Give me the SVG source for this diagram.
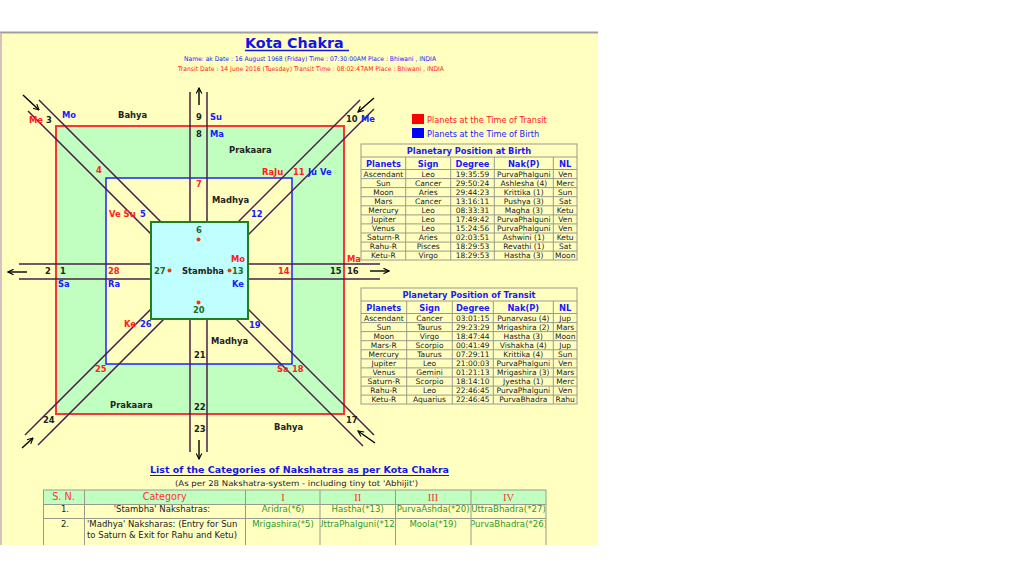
<svg xmlns="http://www.w3.org/2000/svg" width="1024" height="576" viewBox="0 0 1024 576">
<defs>
<style>
text{font-family:"DejaVu Sans",Verdana,sans-serif;}
.lb{font-size:8.4px;font-weight:bold;fill:#222;}
.r{fill:#ff2020;}
.b{fill:#1a1aff;}
.g{fill:#1e6b1e;}
.cl{stroke:#4a1f4a;stroke-width:1.5;fill:none;}
.ar{stroke:#000;stroke-width:1.4;fill:none;marker-end:url(#ah);}
.tt{font-size:8.3px;font-weight:bold;fill:#1a1aff;text-anchor:middle;}
.th{font-size:8.3px;font-weight:bold;fill:#1a1aff;text-anchor:middle;}
.td{font-size:7.5px;fill:#222;text-anchor:middle;}
.grid{stroke:#9a9a8c;stroke-width:1;fill:none;}
.hr{font-size:9.6px;fill:#ff3333;text-anchor:middle;}
.rn{font-family:"Liberation Serif",serif;font-size:10.5px;fill:#ff3333;text-anchor:middle;}
.gt{font-size:8.6px;fill:#2e9a2e;text-anchor:middle;}
.bt{font-size:8.5px;fill:#222;}
</style>
<marker id="ah" viewBox="0 0 10 10" refX="9" refY="5" markerWidth="7" markerHeight="7" orient="auto" markerUnits="userSpaceOnUse">
<path d="M1,1 L9,5 L1,9" fill="none" stroke="#000" stroke-width="1.6"/>
</marker>
<clipPath id="c2"><rect x="320.5" y="519" width="75" height="26"/></clipPath>
<clipPath id="c3"><rect x="396" y="505" width="75" height="14"/></clipPath>
<clipPath id="c4"><rect x="471.5" y="505" width="74" height="40"/></clipPath>
<clipPath id="c1"><rect x="246" y="519" width="74" height="26"/></clipPath>
</defs>

<rect x="0" y="0" width="1024" height="576" fill="#ffffff"/>
<rect x="0" y="33" width="598" height="512" fill="#ffffc0"/>
<line x1="0" y1="32.5" x2="598" y2="32.5" stroke="#a0a0a0" stroke-width="2"/>
<line x1="1" y1="33" x2="1" y2="545" stroke="#d8c0c0" stroke-width="2"/>

<g id="header">
<text x="245" y="48" font-size="14.3" font-weight="bold" fill="#1414e6">Kota Chakra</text>
<line x1="245" y1="50.5" x2="349" y2="50.5" stroke="#1414e6" stroke-width="1.3"/>
<text x="184" y="61" font-family="Liberation Sans" font-size="6.4" fill="#1a1aff" textLength="252" lengthAdjust="spacingAndGlyphs">Name: ak  Date : 16 August 1968 (Friday) Time : 07:30:00AM Place : Bhiwani , INDIA</text>
<text x="178" y="71" font-family="Liberation Sans" font-size="6.4" fill="#ff2020" textLength="266" lengthAdjust="spacingAndGlyphs">Transit Date : 14 June 2016 (Tuesday) Transit Time : 08:02:47AM Place : Bhiwani , INDIA</text>
</g>

<g id="legend">
<rect x="412" y="114" width="12" height="10" fill="#ff0000"/>
<text x="427" y="123" font-size="8.2" fill="#ff2020">Planets at the Time of Transit</text>
<rect x="412" y="128" width="12" height="10" fill="#0000ff"/>
<text x="427" y="137" font-size="8.2" fill="#1a1aff">Planets at the Time of Birth</text>
</g>

<g id="prakaara">
<rect x="56" y="126" width="288" height="288" fill="#c0ffc0" stroke="#ff3333" stroke-width="2"/>
</g>
<g id="madhya">
<rect x="106" y="178" width="186" height="186" fill="#ffffc0" stroke="#2020ff" stroke-width="1.5"/>
</g>

<g id="connectors">
<line class="cl" x1="190" y1="92" x2="190" y2="452"/>
<line class="cl" x1="207" y1="92" x2="207" y2="452"/>
<line class="cl" x1="19" y1="264" x2="380" y2="264"/>
<line class="cl" x1="19" y1="279" x2="380" y2="279"/>
<line class="cl" x1="39" y1="100" x2="374" y2="435"/>
<line class="cl" x1="28" y1="111" x2="363" y2="446"/>
<line class="cl" x1="360" y1="100" x2="25" y2="435"/>
<line class="cl" x1="374" y1="109" x2="38" y2="445"/>
<line class="ar" x1="199" y1="105" x2="199" y2="88"/>
<line class="ar" x1="199" y1="440" x2="199" y2="459"/>
<line class="ar" x1="27" y1="272" x2="8" y2="272"/>
<line class="ar" x1="370" y1="271" x2="389" y2="271"/>
<line class="ar" x1="23" y1="95" x2="39" y2="110"/>
<line class="ar" x1="374" y1="98" x2="358" y2="112"/>
<line class="ar" x1="22" y1="448" x2="33" y2="438"/>
<line class="ar" x1="375" y1="443" x2="358" y2="431"/>
</g>

<g id="stambha">
<rect x="151" y="222" width="97" height="97" fill="#c0ffff" stroke="#208020" stroke-width="2"/>
<circle cx="198.5" cy="239.5" r="2" fill="#ff3300"/>
<circle cx="169.5" cy="270.5" r="2" fill="#ff3300"/>
<circle cx="229.5" cy="270.5" r="2" fill="#ff3300"/>
<circle cx="198.5" cy="302.5" r="2" fill="#ff3300"/>
<text class="lb g" x="196" y="233">6</text>
<text class="lb g" x="154" y="273.5">27</text>
<text class="lb" x="182" y="273.5">Stambha</text>
<text class="lb g" x="232" y="273.5">13</text>
<text class="lb g" x="193" y="313">20</text>
</g>

<g id="labels">
<text class="lb r" x="29" y="123">Me</text>
<text class="lb" x="46" y="123">3</text>
<text class="lb b" x="62" y="118">Mo</text>
<text class="lb" x="118" y="118">Bahya</text>
<text class="lb" x="196" y="120">9</text>
<text class="lb b" x="210" y="120">Su</text>
<text class="lb" x="196" y="137">8</text>
<text class="lb b" x="210" y="137">Ma</text>
<text class="lb" x="346" y="122">10</text>
<text class="lb b" x="361" y="122">Me</text>
<text class="lb" x="229" y="153">Prakaara</text>
<text class="lb r" x="96" y="173">4</text>
<text class="lb r" x="262" y="175">RaJu</text>
<text class="lb r" x="293" y="175">11</text>
<text class="lb b" x="308" y="175">Ju Ve</text>
<text class="lb r" x="196" y="187">7</text>
<text class="lb" x="212" y="203">Madhya</text>
<text class="lb r" x="109" y="217">Ve Su</text>
<text class="lb b" x="140" y="217">5</text>
<text class="lb b" x="251" y="217">12</text>
<text class="lb r" x="231" y="262">Mo</text>
<text class="lb r" x="347" y="262">Ma</text>
<text class="lb" x="45" y="273.5">2</text>
<text class="lb" x="60" y="273.5">1</text>
<text class="lb r" x="108" y="273.5">28</text>
<text class="lb r" x="278" y="273.5">14</text>
<text class="lb" x="330" y="273.5">15</text>
<text class="lb" x="347" y="273.5">16</text>
<text class="lb b" x="58" y="287">Sa</text>
<text class="lb b" x="108" y="287">Ra</text>
<text class="lb b" x="232" y="287">Ke</text>
<text class="lb r" x="124" y="327">Ke</text>
<text class="lb b" x="140" y="327">26</text>
<text class="lb b" x="249" y="328">19</text>
<text class="lb" x="211" y="344">Madhya</text>
<text class="lb" x="194" y="358">21</text>
<text class="lb r" x="95" y="372">25</text>
<text class="lb r" x="277" y="372">Sa</text>
<text class="lb r" x="292" y="372">18</text>
<text class="lb" x="110" y="408">Prakaara</text>
<text class="lb" x="194" y="410">22</text>
<text class="lb" x="43" y="423">24</text>
<text class="lb" x="346" y="423">17</text>
<text class="lb" x="194" y="432">23</text>
<text class="lb" x="274" y="430">Bahya</text>
</g>

<g id="birth-table">
<rect class="grid" x="361" y="144" width="216" height="116"/>
<line class="grid" x1="361" y1="157" x2="577" y2="157"/>
<line class="grid" x1="361" y1="169.5" x2="577" y2="169.5"/>
<line class="grid" x1="361" y1="178.6" x2="577" y2="178.6"/>
<line class="grid" x1="361" y1="187.6" x2="577" y2="187.6"/>
<line class="grid" x1="361" y1="196.7" x2="577" y2="196.7"/>
<line class="grid" x1="361" y1="205.8" x2="577" y2="205.8"/>
<line class="grid" x1="361" y1="214.9" x2="577" y2="214.9"/>
<line class="grid" x1="361" y1="223.9" x2="577" y2="223.9"/>
<line class="grid" x1="361" y1="233" x2="577" y2="233"/>
<line class="grid" x1="361" y1="242.1" x2="577" y2="242.1"/>
<line class="grid" x1="361" y1="251.1" x2="577" y2="251.1"/>
<line class="grid" x1="405.7" y1="157" x2="405.7" y2="260"/>
<line class="grid" x1="450.7" y1="157" x2="450.7" y2="260"/>
<line class="grid" x1="494.3" y1="157" x2="494.3" y2="260"/>
<line class="grid" x1="553.3" y1="157" x2="553.3" y2="260"/>
<text class="tt" x="469" y="153.5">Planetary Position at Birth</text>
<text class="th" x="383.4" y="166.5">Planets</text>
<text class="th" x="428.2" y="166.5">Sign</text>
<text class="th" x="472.5" y="166.5">Degree</text>
<text class="th" x="523.8" y="166.5">Nak(P)</text>
<text class="th" x="565.2" y="166.5">NL</text>
<g class="td">
<text x="383.4" y="176.7">Ascendant</text><text x="428.2" y="176.7">Leo</text><text x="472.5" y="176.7">19:35:59</text><text x="523.8" y="176.7">PurvaPhalguni</text><text x="565.2" y="176.7">Ven</text>
<text x="383.4" y="185.8">Sun</text><text x="428.2" y="185.8">Cancer</text><text x="472.5" y="185.8">29:50:24</text><text x="523.8" y="185.8">Ashlesha (4)</text><text x="565.2" y="185.8">Merc</text>
<text x="383.4" y="194.8">Moon</text><text x="428.2" y="194.8">Aries</text><text x="472.5" y="194.8">29:44:23</text><text x="523.8" y="194.8">Krittika (1)</text><text x="565.2" y="194.8">Sun</text>
<text x="383.4" y="203.9">Mars</text><text x="428.2" y="203.9">Cancer</text><text x="472.5" y="203.9">13:16:11</text><text x="523.8" y="203.9">Pushya (3)</text><text x="565.2" y="203.9">Sat</text>
<text x="383.4" y="213">Mercury</text><text x="428.2" y="213">Leo</text><text x="472.5" y="213">08:33:31</text><text x="523.8" y="213">Magha (3)</text><text x="565.2" y="213">Ketu</text>
<text x="383.4" y="222.1">Jupiter</text><text x="428.2" y="222.1">Leo</text><text x="472.5" y="222.1">17:49:42</text><text x="523.8" y="222.1">PurvaPhalguni</text><text x="565.2" y="222.1">Ven</text>
<text x="383.4" y="231.1">Venus</text><text x="428.2" y="231.1">Leo</text><text x="472.5" y="231.1">15:24:56</text><text x="523.8" y="231.1">PurvaPhalguni</text><text x="565.2" y="231.1">Ven</text>
<text x="383.4" y="240.2">Saturn-R</text><text x="428.2" y="240.2">Aries</text><text x="472.5" y="240.2">02:03:51</text><text x="523.8" y="240.2">Ashwini (1)</text><text x="565.2" y="240.2">Ketu</text>
<text x="383.4" y="249.3">Rahu-R</text><text x="428.2" y="249.3">Pisces</text><text x="472.5" y="249.3">18:29:53</text><text x="523.8" y="249.3">Revathi (1)</text><text x="565.2" y="249.3">Sat</text>
<text x="383.4" y="258.3">Ketu-R</text><text x="428.2" y="258.3">Virgo</text><text x="472.5" y="258.3">18:29:53</text><text x="523.8" y="258.3">Hastha (3)</text><text x="565.2" y="258.3">Moon</text>
</g>
</g>

<g id="transit-table">
<rect class="grid" x="361" y="288" width="216" height="116"/>
<line class="grid" x1="361" y1="301" x2="577" y2="301"/>
<line class="grid" x1="361" y1="313.5" x2="577" y2="313.5"/>
<line class="grid" x1="361" y1="322.6" x2="577" y2="322.6"/>
<line class="grid" x1="361" y1="331.6" x2="577" y2="331.6"/>
<line class="grid" x1="361" y1="340.7" x2="577" y2="340.7"/>
<line class="grid" x1="361" y1="349.8" x2="577" y2="349.8"/>
<line class="grid" x1="361" y1="358.9" x2="577" y2="358.9"/>
<line class="grid" x1="361" y1="367.9" x2="577" y2="367.9"/>
<line class="grid" x1="361" y1="377" x2="577" y2="377"/>
<line class="grid" x1="361" y1="386.1" x2="577" y2="386.1"/>
<line class="grid" x1="361" y1="395.1" x2="577" y2="395.1"/>
<line class="grid" x1="406.7" y1="301" x2="406.7" y2="404"/>
<line class="grid" x1="452.3" y1="301" x2="452.3" y2="404"/>
<line class="grid" x1="493.3" y1="301" x2="493.3" y2="404"/>
<line class="grid" x1="553.3" y1="301" x2="553.3" y2="404"/>
<text class="tt" x="469" y="297.5">Planetary Position of Transit</text>
<text class="th" x="383.8" y="310.5">Planets</text>
<text class="th" x="429.5" y="310.5">Sign</text>
<text class="th" x="472.8" y="310.5">Degree</text>
<text class="th" x="523.3" y="310.5">Nak(P)</text>
<text class="th" x="565.2" y="310.5">NL</text>
<g class="td">
<text x="383.8" y="320.7">Ascendant</text><text x="429.5" y="320.7">Cancer</text><text x="472.8" y="320.7">03:01:15</text><text x="523.3" y="320.7">Punarvasu (4)</text><text x="565.2" y="320.7">Jup</text>
<text x="383.8" y="329.8">Sun</text><text x="429.5" y="329.8">Taurus</text><text x="472.8" y="329.8">29:23:29</text><text x="523.3" y="329.8">Mrigashira (2)</text><text x="565.2" y="329.8">Mars</text>
<text x="383.8" y="338.8">Moon</text><text x="429.5" y="338.8">Virgo</text><text x="472.8" y="338.8">18:47:44</text><text x="523.3" y="338.8">Hastha (3)</text><text x="565.2" y="338.8">Moon</text>
<text x="383.8" y="347.9">Mars-R</text><text x="429.5" y="347.9">Scorpio</text><text x="472.8" y="347.9">00:41:49</text><text x="523.3" y="347.9">Vishakha (4)</text><text x="565.2" y="347.9">Jup</text>
<text x="383.8" y="357">Mercury</text><text x="429.5" y="357">Taurus</text><text x="472.8" y="357">07:29:11</text><text x="523.3" y="357">Krittika (4)</text><text x="565.2" y="357">Sun</text>
<text x="383.8" y="366.1">Jupiter</text><text x="429.5" y="366.1">Leo</text><text x="472.8" y="366.1">21:00:03</text><text x="523.3" y="366.1">PurvaPhalguni</text><text x="565.2" y="366.1">Ven</text>
<text x="383.8" y="375.1">Venus</text><text x="429.5" y="375.1">Gemini</text><text x="472.8" y="375.1">01:21:13</text><text x="523.3" y="375.1">Mrigashira (3)</text><text x="565.2" y="375.1">Mars</text>
<text x="383.8" y="384.2">Saturn-R</text><text x="429.5" y="384.2">Scorpio</text><text x="472.8" y="384.2">18:14:10</text><text x="523.3" y="384.2">Jyestha (1)</text><text x="565.2" y="384.2">Merc</text>
<text x="383.8" y="393.3">Rahu-R</text><text x="429.5" y="393.3">Leo</text><text x="472.8" y="393.3">22:46:45</text><text x="523.3" y="393.3">PurvaPhalguni</text><text x="565.2" y="393.3">Ven</text>
<text x="383.8" y="402.3">Ketu-R</text><text x="429.5" y="402.3">Aquarius</text><text x="472.8" y="402.3">22:46:45</text><text x="523.3" y="402.3">PurvaBhadra</text><text x="565.2" y="402.3">Rahu</text>
</g>
</g>

<g id="categories">
<text x="150" y="473" font-size="9" font-weight="bold" fill="#1414e6" textLength="299" lengthAdjust="spacingAndGlyphs">List of the Categories of Nakshatras as per Kota Chakra</text>
<line x1="150" y1="475.5" x2="449" y2="475.5" stroke="#1414e6" stroke-width="1"/>
<text x="175" y="485.5" font-size="7.8" fill="#222" textLength="243" lengthAdjust="spacingAndGlyphs">(As per 28 Nakshatra-system - including tiny tot 'Abhijit')</text>
<rect x="43.5" y="490" width="502.5" height="14.5" fill="#c0ffc0"/>
<rect class="grid" x="43.5" y="490" width="502.5" height="60"/>
<line class="grid" x1="43.5" y1="504.5" x2="546" y2="504.5"/>
<line class="grid" x1="43.5" y1="518.5" x2="546" y2="518.5"/>
<line class="grid" x1="84.5" y1="490" x2="84.5" y2="545"/>
<line class="grid" x1="245.5" y1="490" x2="245.5" y2="545"/>
<line class="grid" x1="320" y1="490" x2="320" y2="545"/>
<line class="grid" x1="395.5" y1="490" x2="395.5" y2="545"/>
<line class="grid" x1="471" y1="490" x2="471" y2="545"/>
<text class="hr" x="63.5" y="500">S. N.</text>
<text class="hr" x="164.7" y="500">Category</text>
<text class="rn" x="283" y="500.5">I</text>
<text class="rn" x="357.7" y="500.5">II</text>
<text class="rn" x="433" y="500.5">III</text>
<text class="rn" x="508.5" y="500.5">IV</text>
<text class="bt" x="65" y="512" text-anchor="middle">1.</text>
<text class="bt" x="162" y="512" text-anchor="middle">'Stambha' Nakshatras:</text>
<text class="gt" x="283" y="512">Aridra(*6)</text>
<text class="gt" x="357.7" y="512">Hastha(*13)</text>
<text class="gt" x="433.2" y="512" clip-path="url(#c3)">PurvaAshda(*20)</text>
<text class="gt" x="508.5" y="512" clip-path="url(#c4)">UttraBhadra(*27)</text>
<text class="bt" x="65" y="527" text-anchor="middle">2.</text>
<text class="bt" x="87" y="527">'Madhya' Naksharas: (Entry for Sun</text>
<text class="bt" x="87" y="537.5">to Saturn &amp; Exit for Rahu and Ketu)</text>
<text class="gt" x="283" y="526.5" clip-path="url(#c1)">Mrigashira(*5)</text>
<text class="gt" x="357.7" y="526.5" clip-path="url(#c2)">UttraPhalguni(*12)</text>
<text class="gt" x="433.2" y="526.5">Moola(*19)</text>
<text class="gt" x="508.5" y="526.5" clip-path="url(#c4)">PurvaBhadra(*26)</text>
</g>

<rect x="0" y="545" width="1024" height="31" fill="#ffffff"/>
</svg>
